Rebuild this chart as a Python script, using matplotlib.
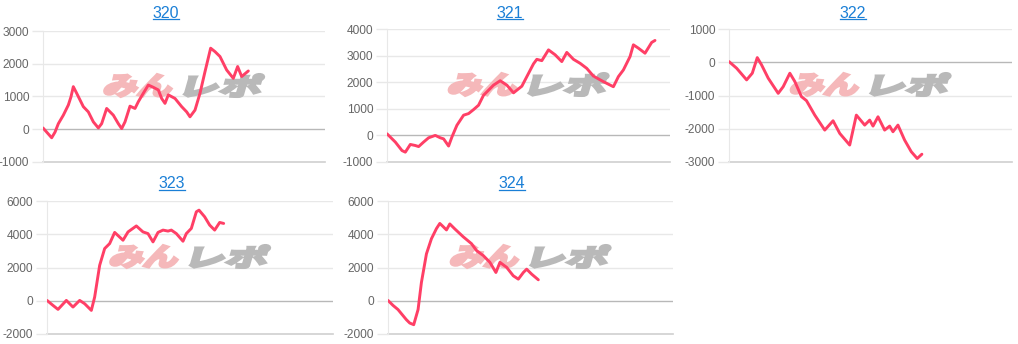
import matplotlib
matplotlib.use("Agg")
import matplotlib.pyplot as plt
from matplotlib.textpath import TextPath
from matplotlib.patches import PathPatch
from matplotlib.font_manager import FontProperties
from matplotlib.transforms import Affine2D, IdentityTransform
import numpy as np

# machine numbers
titles = ["320", "321", "322", "323", "324"]

# games played (x) and medal difference (y)
games_320 = [0, 246, 340, 435, 577, 719, 794, 860, 955, 1144, 1286, 1428, 1570, 1664, 1806, 1995,
             2137, 2232, 2326, 2468, 2610, 2704, 2846, 2988, 3130, 3272, 3366, 3461, 3555, 3745,
             3934, 4076, 4170, 4312, 4454, 4596, 4756, 4879, 5021, 5210, 5399, 5522, 5636, 5825]
diff_320 = [40, -260, -90, 170, 430, 740, 990, 1300, 1100, 690, 530, 225, 40, 170, 635, 430,
            170, 20, 225, 705, 635, 840, 1100, 1350, 1280, 1200, 940, 790, 1050, 940,
            690, 530, 380, 585, 1100, 1760, 2475, 2370, 2220, 1810, 1555, 1915, 1610, 1780]

games_321 = [0, 235, 424, 518, 659, 800, 894, 1035, 1176, 1365, 1506, 1600, 1741, 1835, 1976, 2165,
             2306, 2447, 2588, 2729, 2871, 3012, 3200, 3388, 3576, 3812, 4000, 4141, 4235, 4376,
             4565, 4753, 4941, 5082, 5271, 5459, 5647, 5835, 6118, 6400, 6541, 6682, 6871, 6965,
             7106, 7294, 7482, 7576]
diff_321 = [60, -250, -570, -630, -340, -380, -420, -250, -90, 0, -90, -130, -400, -60, 380, 760,
            820, 970, 1135, 1510, 1700, 1890, 2055, 1890, 1600, 1850, 2330, 2690, 2860, 2810,
            3215, 3030, 2775, 3120, 2860, 2710, 2520, 2230, 2020, 1830, 2210, 2460, 2965, 3405,
            3280, 3090, 3495, 3570]

games_322 = [0, 216, 498, 658, 799, 921, 1109, 1391, 1532, 1720, 1861, 2049, 2190, 2425, 2707, 2942,
             3131, 3412, 3600, 3836, 3977, 4071, 4212, 4400, 4541, 4635, 4776, 4964, 5152, 5321, 5453]
diff_322 = [20, -180, -530, -330, 140, -80, -480, -935, -735, -330, -580, -1035, -1155, -1590, -2040,
            -1760, -2140, -2490, -1590, -1890, -1740, -1920, -1640, -2040, -1920, -2090, -1890,
            -2340, -2690, -2895, -2765]

games_323 = [0, 168, 308, 541, 727, 914, 1054, 1240, 1333, 1473, 1613, 1753, 1893, 2126, 2266, 2499,
             2685, 2825, 2965, 3105, 3245, 3385, 3478, 3618, 3804, 3897, 4037, 4177, 4252, 4410,
             4550, 4690, 4830, 4942]
diff_323 = [20, -280, -520, 20, -380, 20, -180, -580, 220, 2130, 3140, 3440, 4110, 3640, 4140, 4500,
            4140, 4040, 3540, 4110, 4250, 4190, 4250, 4040, 3580, 4040, 4350, 5350, 5450, 5050,
            4550, 4250, 4710, 4650]

games_324 = [0, 141, 281, 516, 610, 722, 844, 938, 1079, 1219, 1360, 1454, 1548, 1641, 1735, 1876,
             2110, 2345, 2485, 2673, 2861, 3029, 3142, 3330, 3517, 3658, 3799, 3892, 4033, 4220]
diff_324 = [20, -280, -530, -1140, -1340, -1440, -530, 1100, 2820, 3730, 4340, 4650, 4460, 4260, 4620,
            4320, 3850, 3430, 3020, 2720, 2310, 1700, 2310, 2010, 1500, 1300, 1700, 1900, 1600, 1260]

games = [games_320, games_321, games_322, games_323, games_324]
diffs = [diff_320, diff_321, diff_322, diff_323, diff_324]
y_ranges = [(-1000, 3000), (-1000, 4000), (-3000, 1000), (-2000, 6000), (-2000, 6000)]
y_steps = [1000, 1000, 1000, 2000, 2000]
x_max = 8000

W, H = 1018, 344
fig = plt.figure(figsize=(W / 100, H / 100), dpi=100)
fig.patch.set_facecolor("white")

# axes boxes in pixels: left, right, top, bottom
boxes = [(43, 325, 31, 162), (387, 670, 29, 162), (729, 1012, 29, 162),
         (47, 333, 201, 334), (388, 673, 201, 334)]
title_x = [166, 510, 853, 172, 512]
title_y = [13, 13, 13, 184, 184]

line_color = "#ff3f66"
link_color = "#1a7fd6"
grid_color = "#e8e8e8"
jp = FontProperties(family="Noto Sans CJK JP", weight="bold")


def add_logo(ax, l, r, t, b):
    # watermark: "みん" pink, "レポ" grey, slanted and heavy
    cx = (l + r) / 2
    cy = H - ((t + b) / 2 - 11)
    parts = [("みん", "#f5b8ba", cx - 79, 66), ("レポ", "#b9b9b9", cx + 2, 74)]
    for txt, col, x_left, w in parts:
        tp = TextPath((0, 0), txt, size=30, prop=jp)
        ext = tp.get_extents()
        tr = (Affine2D().translate(-ext.x0, -ext.y0)
              .scale(w / ext.width, 22 / ext.height)
              .skew_deg(16, 0)
              .translate(x_left - 2, cy - 11))
        patch = PathPatch(tr.transform_path(tp), facecolor=col, edgecolor=col,
                          linewidth=2.2, joinstyle="miter",
                          transform=IdentityTransform(), zorder=1.5)
        ax.add_artist(patch)


for i in range(5):
    l, r, t, b = boxes[i]
    ax = fig.add_axes([l / W, 1 - b / H, (r - l) / W, (b - t) / H])
    ax.set_facecolor("none")
    lo, hi = y_ranges[i]
    ax.set_xlim(0, x_max)
    ax.set_ylim(lo, hi)
    ticks = np.arange(lo, hi + 1, y_steps[i])
    ax.set_yticks(ticks)
    ax.set_yticklabels([str(v) for v in ticks])
    ax.set_xticks([])
    for v in ticks:
        if v == 0:
            ax.axhline(v, color="#b8b8b8", lw=1, zorder=1)
        elif v == lo:
            ax.axhline(v, color="#cfcfcf", lw=1.2, zorder=1, clip_on=False)
        else:
            ax.axhline(v, color=grid_color, lw=1, zorder=0.5)
    for s in ["top", "right", "bottom"]:
        ax.spines[s].set_visible(False)
    ax.spines["left"].set_color(grid_color)
    ax.tick_params(axis="y", length=8, width=1, color=grid_color, pad=2,
                   labelsize=8.6, labelcolor="#666666")
    for lab in ax.get_yticklabels():
        lab.set_fontfamily("Liberation Sans")
    add_logo(ax, l, r, t, b)
    ax.plot(games[i], diffs[i], color=line_color, lw=2.1, zorder=3,
            solid_joinstyle="round", solid_capstyle="round")

# titles drawn as underlined links
titles_txt = []
for i in range(5):
    tx = fig.text(title_x[i] / W, 1 - title_y[i] / H, titles[i], ha="center", va="center",
                  fontsize=11.5, color=link_color, family="Liberation Sans")
    titles_txt.append(tx)

fig.canvas.draw()
renderer = fig.canvas.get_renderer()
for tx in titles_txt:
    bb = tx.get_window_extent(renderer)
    y = bb.y0 + 1.5
    fig.add_artist(plt.Line2D([bb.x0 / W, bb.x1 / W], [y / H, y / H],
                              color=link_color, lw=0.9))

fig.savefig("out.png", dpi=100)
